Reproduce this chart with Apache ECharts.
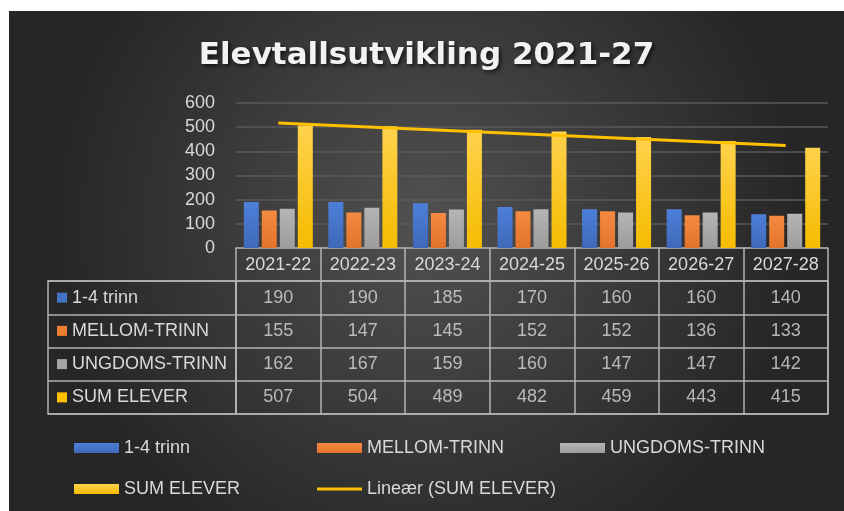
<!DOCTYPE html>
<html>
<head>
<meta charset="utf-8">
<script src="https://cdn.jsdelivr.net/npm/echarts@6/dist/echarts.min.js"></script>
<style>
  html, body { margin: 0; padding: 0; background: #fff; }
  #chart { position: absolute; left: 9px; top: 11px; width: 835px; height: 500px; }
</style>
</head>
<body>
<div id="chart"></div>
<script>
// ---- data ----
const years = ["2021-22", "2022-23", "2023-24", "2024-25", "2025-26", "2026-27", "2027-28"];
const trinn14 = [190, 190, 185, 170, 160, 160, 140];
const mellomTrinn = [155, 147, 145, 152, 152, 136, 133];
const ungdomsTrinn = [162, 167, 159, 160, 147, 147, 142];
const sumElever = [507, 504, 489, 482, 459, 443, 415];
// trend line: start and end points only
const trendSum = [517, null, null, null, null, null, 424];
const seriesNames = ["1-4 trinn", "MELLOM-TRINN", "UNGDOMS-TRINN", "SUM ELEVER"];
const trendName = "Lineær (SUM ELEVER)";
const yMin = 0, yMax = 600, yStep = 100;

const colors = ["#4472c4", "#ed7d31", "#a5a5a5", "#ffc000"];
const textColor = "#d9d9d9";
const borderColor = "#b3b3b3";
const font = "Liberation Sans";

const rows = [trinn14, mellomTrinn, ungdomsTrinn, sumElever];

function barGradient(top, bottom) {
  return new echarts.graphic.LinearGradient(0, 0, 0, 1, [
    { offset: 0, color: top },
    { offset: 1, color: bottom }
  ]);
}
const barFills = [
  barGradient("#4d7fd9", "#3f69b8"),
  barGradient("#f58a42", "#e2732a"),
  barGradient("#b5b5b5", "#9c9c9c"),
  barGradient("#ffd24d", "#f5bc00")
];

// table cells: [col, row, value]
const cells = [];
rows.forEach((row, r) => row.forEach((v, c) => cells.push([c, r, v])));

const chart = echarts.init(document.getElementById("chart"));

const legendBase = {
  icon: "rect",
  padding: 0,
  itemWidth: 45,
  itemHeight: 10,
  selectedMode: false,
  textStyle: { color: textColor, fontSize: 18, fontFamily: font }
};

const option = {
  backgroundColor: {
    type: "radial", x: 0.5, y: 0.42, r: 0.75,
    colorStops: [
      { offset: 0, color: "#515151" },
      { offset: 1, color: "#262626" }
    ]
  },
  title: {
    text: "Elevtallsutvikling 2021-27",
    left: "center",
    top: 24,
    textStyle: {
      color: "#f2f2f2",
      fontFamily: "DejaVu Sans",
      fontWeight: "bold",
      fontSize: 31,
      textShadowColor: "rgba(0,0,0,0.7)",
      textShadowBlur: 4,
      textShadowOffsetX: 2,
      textShadowOffsetY: 2
    }
  },
  legend: [
    { ...legendBase, left: 65, top: 428, data: [seriesNames[0]] },
    { ...legendBase, left: 308, top: 428, data: [seriesNames[1]] },
    { ...legendBase, left: 551, top: 428, data: [seriesNames[2]] },
    { ...legendBase, left: 65, top: 469, data: [seriesNames[3]] },
    { ...legendBase, left: 308, top: 469, itemHeight: 3, data: [trendName] }
  ],
  grid: [
    { left: 227, right: 16, top: 92, bottom: 263 },
    { left: 227, right: 16, top: 270, height: 133, show: true, borderColor: borderColor, borderWidth: 1.5, backgroundColor: "transparent" },
    { left: 39, width: 188, top: 270, height: 133, show: true, borderColor: borderColor, borderWidth: 1.5, backgroundColor: "transparent" }
  ],
  xAxis: [
    {
      gridIndex: 0,
      type: "category",
      data: years,
      axisLine: { show: true, lineStyle: { color: borderColor, width: 1.5 } },
      axisTick: { show: true, interval: 0, length: 33, lineStyle: { color: borderColor, width: 1.5 } },
      axisLabel: { color: textColor, fontSize: 18, fontFamily: font, margin: 8, interval: 0 }
    },
    {
      gridIndex: 1,
      type: "category",
      data: years,
      axisLine: { show: false },
      axisTick: { show: false },
      axisLabel: { show: false },
      splitLine: { show: true, interval: 0, lineStyle: { color: borderColor, width: 1.5 } }
    },
    { gridIndex: 2, type: "value", show: false }
  ],
  yAxis: [
    {
      gridIndex: 0,
      type: "value",
      min: yMin,
      max: yMax,
      interval: yStep,
      axisLine: { show: false },
      axisTick: { show: false },
      axisLabel: { color: textColor, fontSize: 18, fontFamily: font, margin: 21 },
      splitLine: { lineStyle: { color: "#5a5a5a", width: 1.5 } }
    },
    {
      gridIndex: 1,
      type: "category",
      inverse: true,
      data: seriesNames,
      axisLine: { show: false },
      axisTick: { show: false },
      axisLabel: { show: false },
      splitLine: { show: true, interval: 0, lineStyle: { color: borderColor, width: 1.5 } }
    },
    {
      gridIndex: 2,
      type: "category",
      inverse: true,
      data: seriesNames,
      axisLine: { show: false },
      axisTick: { show: false },
      splitLine: { show: true, interval: 0, lineStyle: { color: borderColor, width: 1.5 } },
      axisLabel: {
        inside: true,
        margin: 9,
        interval: 0,
        formatter: (v, i) => `{s${i}|}{t|${v}}`,
        rich: {
          s0: { width: 10, height: 10, backgroundColor: colors[0] },
          s1: { width: 10, height: 10, backgroundColor: colors[1] },
          s2: { width: 10, height: 10, backgroundColor: colors[2] },
          s3: { width: 10, height: 10, backgroundColor: colors[3] },
          t: { color: textColor, fontSize: 18, fontFamily: font, padding: [0, 0, 0, 5] }
        }
      }
    }
  ],
  series: [
    ...rows.map((row, i) => ({
      name: seriesNames[i],
      type: "bar",
      xAxisIndex: 0,
      yAxisIndex: 0,
      data: row,
      barWidth: 15,
      barGap: "20%",
      color: colors[i],
      itemStyle: { color: barFills[i] }
    })),
    {
      name: trendName,
      type: "line",
      xAxisIndex: 0,
      yAxisIndex: 0,
      data: trendSum,
      connectNulls: true,
      symbol: "none",
      color: "#ffc000",
      lineStyle: { width: 3, color: "#ffc000" },
      z: 5
    },
    {
      name: "table",
      type: "scatter",
      xAxisIndex: 1,
      yAxisIndex: 1,
      data: cells,
      symbolSize: 1,
      silent: true,
      itemStyle: { color: "rgba(0,0,0,0)" },
      label: {
        show: true,
        position: "inside",
        formatter: p => p.value[2],
        color: textColor,
        fontSize: 18,
        fontFamily: font
      }
    }
  ]
};

chart.setOption(option);
window.addEventListener("resize", chart.resize);
</script>
</body>
</html>
